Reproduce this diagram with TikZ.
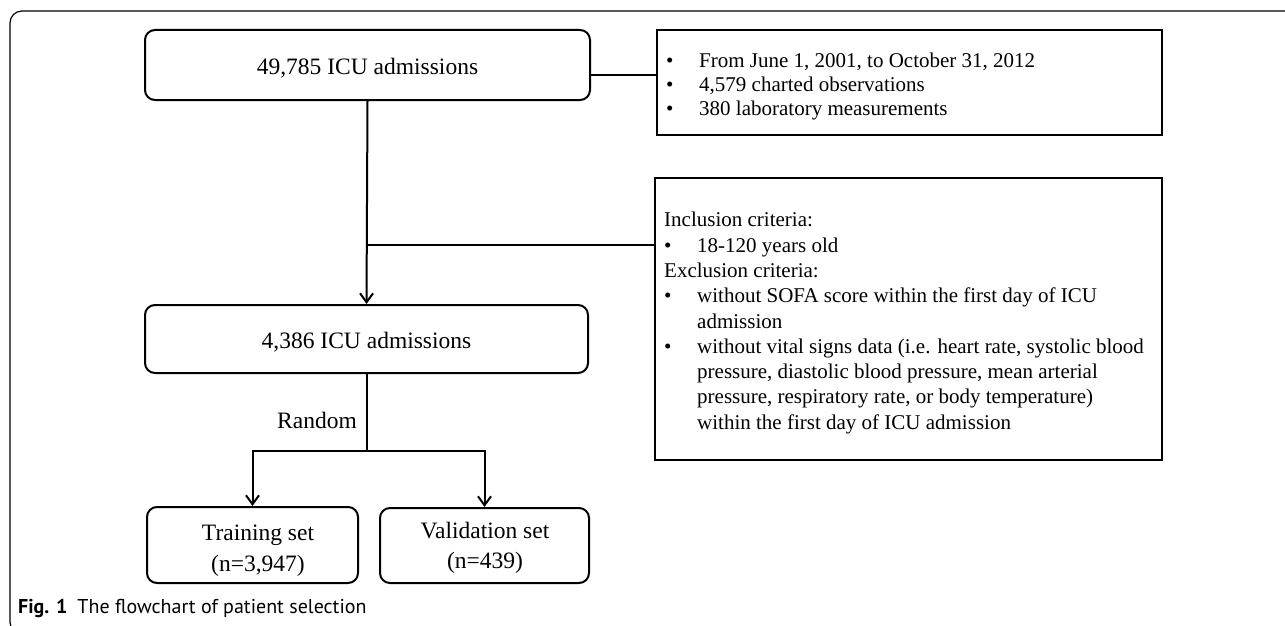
\documentclass[tikz,border=0pt]{standalone}
\usepackage{fontspec}
\setmainfont{Liberation Serif}
\newfontfamily\capfont{PT Sans}
\usetikzlibrary{arrows.meta}
\newcommand\bul{\makebox[33pt][l]{\textbullet}}
\newcommand\ind{\hspace*{33pt}}
\begin{document}
\begin{tikzpicture}[x=1pt,y=-1pt,
  rbox/.style={draw, line width=2pt, rounded corners=10pt, inner sep=0pt},
  btext/.style={inner sep=0pt, align=center, font=\fontsize{23.5}{31}\selectfont},
  sbox/.style={draw, line width=2.5pt, inner sep=0pt},
  listtext/.style={anchor=west, inner sep=0pt, align=left},
  conn/.style={line width=2pt},
  arr/.style={line width=2pt, -{Straight Barb[length=9pt,width=13pt,line width=2pt]}},
  frame/.style={line width=1.2pt, rounded corners=12pt}
  ]
\useasboundingbox (0,0) rectangle (1285,626);
\begin{scope}
\clip (0,0) rectangle (1285,626);
\draw[frame] (10,11) rectangle (1300,634);
\end{scope}

% main boxes
\node[rbox, minimum width=445pt, minimum height=70pt] (b1) at (367.5,65) {};
\node[btext] (b1t) at (367.5,68) {49,785 ICU admissions};
\node[rbox, minimum width=443pt, minimum height=68pt] (b2) at (366.5,339) {};
\node[btext] (b2t) at (366.5,342) {4,386 ICU admissions};
\node[rbox, minimum width=211pt, minimum height=76pt] (tr) at (252.5,545) {};
\node[btext] (trt) at (258,551) {Training set\\(n=3,947)};
\node[rbox, minimum width=209pt, minimum height=75pt] (va) at (484.5,545.5) {};
\node[btext, font=\fontsize{23.5}{29.5}\selectfont] (vat) at (485,548) {Validation set\\(n=439)};

% side boxes
\node[sbox, minimum width=505pt, minimum height=105pt] (r1) at (909.5,82.5) {};
\node[listtext, font=\fontsize{21}{24}\selectfont] (r1t) at (666,86)
  {\bul From June 1, 2001, to October 31, 2012\\
   \bul 4,579 charted observations\\
   \bul 380 laboratory measurements};

\node[sbox, minimum width=507pt, minimum height=282pt] (r2) at (908.5,319) {};
\node[listtext, font=\fontsize{21}{25.3}\selectfont] (r2t) at (664,323)
  {Inclusion criteria:\\
   \bul 18-120 years old\\
   Exclusion criteria:\\
   \bul without SOFA score within the first day of ICU\\
   \ind admission\\
   \bul without vital signs data (i.e. heart rate, systolic blood\\
   \ind pressure, diastolic blood pressure, mean arterial\\
   \ind pressure, respiratory rate, or body temperature)\\
   \ind within the first day of ICU admission};

% label and caption
\node[anchor=east, inner sep=0pt, font=\fontsize{23.5}{28}\selectfont] (rnd) at (357,420) {Random};
\node[anchor=west, inner sep=0pt, font=\capfont\fontsize{20}{24}\selectfont] (cap) at (18,608)
  {\textbf{Fig. 1}\hspace{0.5em}The flowchart of patient selection};

% connectors
\coordinate (c1) at ([yshift=-10pt]b1.east);
\draw[conn] (c1) -- (c1 -| r1.west);
\draw[arr] (b1.south) -- (b2.north);
\coordinate (j1) at (b1.south |- 0,245);
\draw[conn] (j1) -- (j1 -| r2.west);
\coordinate (j2) at (b2.south |- 0,451);
\draw[conn] (b2.south) -- (j2);
\draw[arr] (j2) -| (tr.north);
\draw[arr] (j2) -| (va.north);
\end{tikzpicture}
\end{document}
